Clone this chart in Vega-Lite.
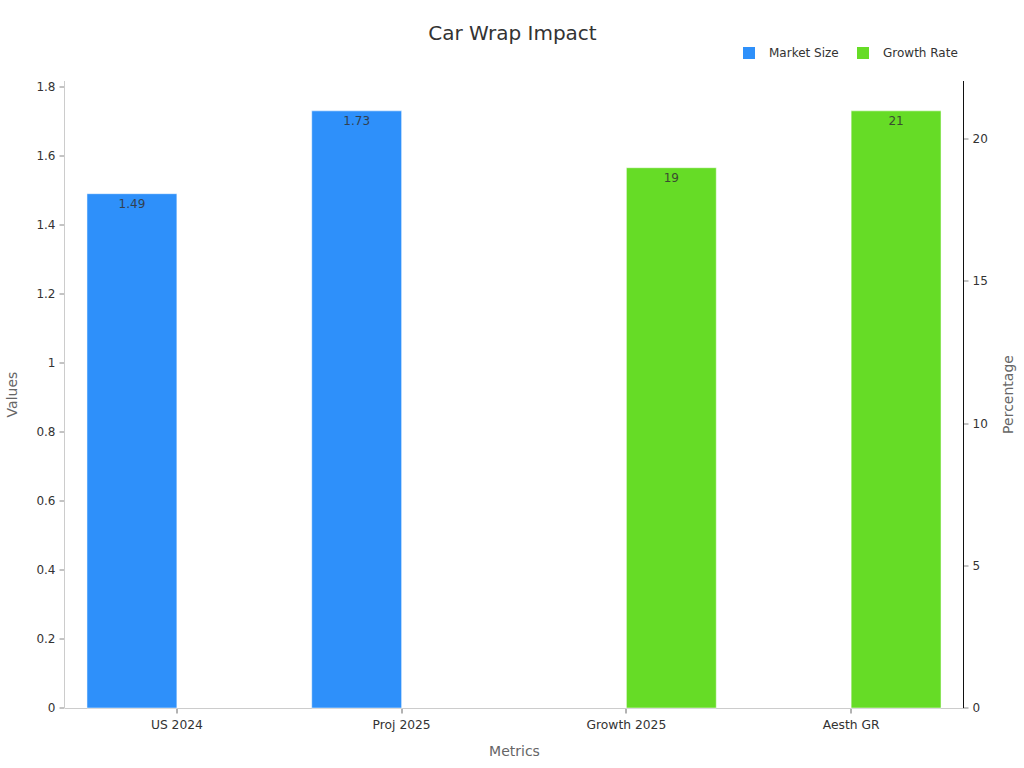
{
  "$schema": "https://vega.github.io/schema/vega-lite/v6.json",
  "width": 899,
  "height": 627,
  "autosize": "none",
  "padding": {"left": 64.5, "top": 81, "right": 60.5, "bottom": 60},
  "background": "white",
  "title": {"text": "Car Wrap Impact", "fontSize": 20, "font": "DejaVu Sans", "fontWeight": "normal", "color": "#333333", "anchor": "middle", "dx": -1.5, "offset": 3},
  "config": {
    "font": "DejaVu Sans",
    "view": {"stroke": null}
  },
  "data": {
    "values": [
      {"metric": "US 2024", "series": "Market Size", "value": 1.49},
      {"metric": "Proj 2025", "series": "Market Size", "value": 1.73},
      {"metric": "Growth 2025", "series": "Growth Rate", "value": 19},
      {"metric": "Aesth GR", "series": "Growth Rate", "value": 21}
    ]
  },
  "encoding": {
    "x": {
      "field": "metric", "type": "nominal", "title": "Metrics",
      "sort": ["US 2024", "Proj 2025", "Growth 2025", "Aesth GR"],
      "scale": {"domain": ["US 2024", "Proj 2025", "Growth 2025", "Aesth GR"], "paddingInner": 0.2, "paddingOuter": 0.1},
      "axis": {"labelAngle": 0, "labelFontSize": 12.3, "labelColor": "#333333", "labelPadding": 5, "domainColor": "#cccccc", "tickColor": "#666666", "tickSize": 5, "grid": false, "titleFontSize": 14, "titleFontWeight": "normal", "titleColor": "#666666", "titlePadding": 14}
    },
    "xOffset": {"field": "series", "type": "nominal", "scale": {"domain": ["Market Size", "Growth Rate"], "paddingInner": 0}}
  },
  "layer": [
    {
      "transform": [{"filter": "datum.series == 'Market Size'"}],
      "encoding": {
        "y": {
          "field": "value", "type": "quantitative", "title": "Values",
          "scale": {"domain": [0, 1.8165], "nice": false},
          "axis": {"orient": "left", "translate": 0, "values": [0, 0.2, 0.4, 0.6, 0.8, 1, 1.2, 1.4, 1.6, 1.8], "format": "~g", "grid": false, "labelFontSize": 12, "labelColor": "#333333", "labelPadding": 4, "domainColor": "#cccccc", "tickColor": "#888888", "tickSize": 5, "titleFontSize": 14, "titleFontWeight": "normal", "titleColor": "#666666", "titlePadding": 16}
        }
      },
      "layer": [
        {
          "mark": {"type": "bar", "stroke": "#ffffff", "strokeOpacity": 0.5, "strokeWidth": 1},
          "encoding": {
            "color": {
              "field": "series", "type": "nominal",
              "scale": {"domain": ["Market Size", "Growth Rate"], "range": ["#2e90fa", "#66dc26"]},
              "legend": {"orient": "none", "legendX": 678.5, "legendY": -34, "direction": "horizontal", "title": null, "symbolType": "square", "symbolSize": 144, "symbolStrokeWidth": 0, "symbolOpacity": 1, "labelFontSize": 12, "labelColor": "#333333", "labelOffset": 14, "columnPadding": 18}
            }
          }
        },
        {
          "mark": {"type": "text", "baseline": "top", "dy": 5, "fontSize": 12, "color": "#333333", "opacity": 0.85},
          "encoding": {"text": {"field": "value", "type": "quantitative", "format": "~g"}}
        }
      ]
    },
    {
      "transform": [{"filter": "datum.series == 'Growth Rate'"}],
      "encoding": {
        "y": {
          "field": "value", "type": "quantitative", "title": "Percentage",
          "scale": {"domain": [0, 22.05], "nice": false},
          "axis": {"orient": "right", "translate": 0, "values": [0, 5, 10, 15, 20], "grid": false, "labelFontSize": 12, "labelColor": "#333333", "labelPadding": 4, "domainColor": "#111111", "tickColor": "#888888", "tickSize": 5, "titleAngle": 270, "titleFontSize": 14, "titleFontWeight": "normal", "titleColor": "#666666", "titlePadding": 28}
        }
      },
      "layer": [
        {
          "mark": {"type": "bar", "stroke": "#ffffff", "strokeOpacity": 0.5, "strokeWidth": 1},
          "encoding": {
            "color": {"field": "series", "type": "nominal", "scale": {"domain": ["Market Size", "Growth Rate"], "range": ["#2e90fa", "#66dc26"]}}
          }
        },
        {
          "mark": {"type": "text", "baseline": "top", "dy": 5, "fontSize": 12, "color": "#333333", "opacity": 0.85},
          "encoding": {"text": {"field": "value", "type": "quantitative", "format": "~g"}}
        }
      ]
    }
  ],
  "resolve": {"scale": {"y": "independent"}}
}
